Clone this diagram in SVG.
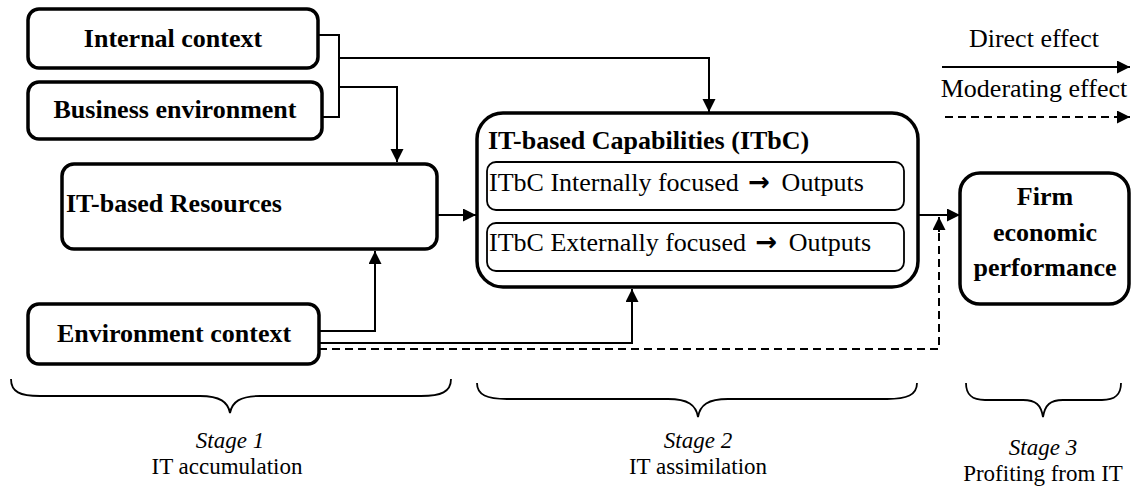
<svg xmlns="http://www.w3.org/2000/svg" width="1137" height="492" viewBox="0 0 1137 492">
<defs>
<marker id="ah" markerWidth="14" markerHeight="14" refX="13" refY="6.5" orient="auto" markerUnits="userSpaceOnUse">
<path d="M0,0 L13,6.5 L0,13 z" fill="#000"/>
</marker>
</defs>
<style>
.box{fill:#fff;stroke:#000;stroke-width:3.5}
.inner{fill:#fff;stroke:#000;stroke-width:1.8}
.b{font-family:'Liberation Serif','DejaVu Serif',serif;font-weight:bold;font-size:26px;fill:#000}
.r{font-family:'Liberation Serif','DejaVu Serif',serif;font-size:26px;fill:#000}
.s{font-family:'Liberation Serif','DejaVu Serif',serif;font-size:23px;fill:#000}
.i{font-family:'Liberation Serif','DejaVu Serif',serif;font-style:italic;font-size:23px;fill:#000}
.arr{font-family:'DejaVu Sans',sans-serif;font-weight:bold}
.c{fill:none;stroke:#000;stroke-width:2}
.d{fill:none;stroke:#000;stroke-width:2;stroke-dasharray:8,5}
.br{fill:none;stroke:#000;stroke-width:1.8}
</style>
<rect width="1137" height="492" fill="#fff"/>
<g id="connectors">
<polyline class="c" points="318,35 339,35 339,117 322,117"/>
<polyline class="c" points="339,58 709,58 709,112" marker-end="url(#ah)"/>
<polyline class="c" points="339,87 397,87 397,162" marker-end="url(#ah)"/>
<line class="c" x1="437" y1="215" x2="476" y2="215" marker-end="url(#ah)"/>
<polyline class="c" points="319,331 375,331 375,251" marker-end="url(#ah)"/>
<polyline class="c" points="319,343 632,343 632,289" marker-end="url(#ah)"/>
<polyline class="d" points="319,349 939,349 939,231"/>
<line class="c" x1="939" y1="232" x2="939" y2="217" marker-end="url(#ah)"/>
<line class="c" x1="918" y1="215" x2="960" y2="215" marker-end="url(#ah)"/>
</g>
<g id="internal-context">
<rect class="box" x="28" y="9" width="290" height="59" rx="11"/>
<text class="b" x="173" y="47" text-anchor="middle">Internal context</text>
</g>
<g id="business-environment">
<rect class="box" x="28" y="82" width="294" height="57" rx="11"/>
<text class="b" x="175" y="118" text-anchor="middle">Business environment</text>
</g>
<g id="it-resources">
<rect class="box" x="62" y="164" width="375" height="85" rx="12"/>
<text class="b" x="66" y="212">IT-based Resources</text>
</g>
<g id="it-capabilities">
<rect class="box" x="477" y="113" width="441" height="174" rx="26"/>
<text class="b" x="488" y="149">IT-based Capabilities (ITbC)</text>
<rect class="inner" x="487" y="162" width="417" height="48" rx="9"/>
<text class="r" x="489" y="191">ITbC Internally focused <tspan class="arr" dx="3">→</tspan><tspan dx="5"> Outputs</tspan></text>
<rect class="inner" x="487" y="223" width="417" height="48" rx="9"/>
<text class="r" x="489" y="251">ITbC Externally focused <tspan class="arr" dx="3">→</tspan><tspan dx="5"> Outputs</tspan></text>
</g>
<g id="environment-context">
<rect class="box" x="28" y="304" width="291" height="60" rx="11"/>
<text class="b" x="174" y="342" text-anchor="middle">Environment context</text>
</g>
<g id="firm-performance">
<rect class="box" x="960" y="173" width="169" height="131" rx="20"/>
<text class="b" x="1045" y="205" text-anchor="middle">Firm</text>
<text class="b" x="1045" y="241" text-anchor="middle">economic</text>
<text class="b" x="1045" y="276" text-anchor="middle">performance</text>
</g>
<g id="legend">
<text class="r" x="1034" y="47" text-anchor="middle">Direct effect</text>
<line class="c" x1="942" y1="67" x2="1130" y2="67" marker-end="url(#ah)"/>
<text class="r" x="1034" y="97" text-anchor="middle">Moderating effect</text>
<line class="d" x1="945" y1="117" x2="1117" y2="117"/>
<line class="c" x1="1117" y1="117" x2="1130" y2="117" marker-end="url(#ah)"/>
</g>
<g id="stages">
<path class="br" d="M11,379 C11,392 20,396 40,396 L200,396 C220,396 228,402 230,413 C232,402 240,396 260,396 L421,396 C441,396 451,392 451,379"/>
<path class="br" d="M477,383 C477,395 487,399 507,399 L668,399 C688,399 696,405 698,417 C700,405 708,399 728,399 L887,399 C907,399 917,395 917,383"/>
<path class="br" d="M966,383 C966,395 972,400 985,400 L1023,400 C1036,400 1041,405 1043,417 C1045,405 1050,400 1063,400 L1102,400 C1115,400 1121,395 1121,383"/>
<text class="i" x="230" y="448" text-anchor="middle">Stage 1</text>
<text class="s" x="227" y="474" text-anchor="middle">IT accumulation</text>
<text class="i" x="698" y="448" text-anchor="middle">Stage 2</text>
<text class="s" x="698" y="474" text-anchor="middle">IT assimilation</text>
<text class="i" x="1043" y="455" text-anchor="middle">Stage 3</text>
<text class="s" x="1043" y="481" text-anchor="middle">Profiting from IT</text>
</g>
</svg>
